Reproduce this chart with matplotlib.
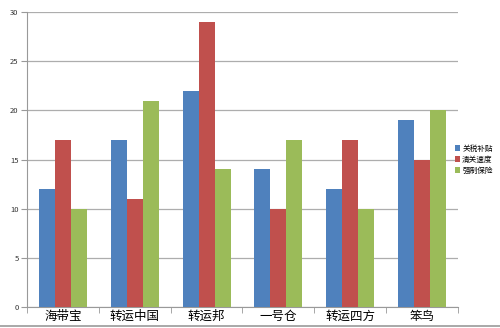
import matplotlib
matplotlib.use("Agg")
import matplotlib.pyplot as plt
from matplotlib.lines import Line2D
import numpy as np

plt.rcParams['font.family'] = ['Noto Sans CJK SC', 'DejaVu Sans']

categories = ["海带宝", "转运中国", "转运邦", "一号仓", "转运四方", "笨鸟"]
series_names = ["关税补贴", "清关速度", "强制保险"]
tariff = [12, 17, 22, 14, 12, 19]
clearance = [17, 11, 29, 10, 17, 15]
insurance = [10, 21, 14, 17, 10, 20]
colors = ["#4F81BD", "#C0504D", "#9BBB59"]

fig = plt.figure(figsize=(5, 3.28), dpi=100)
ax = fig.add_axes([0.054, 0.064, 0.862, 0.899])

x = np.arange(len(categories))
w = 0.223
for i, (vals, name, c) in enumerate(zip([tariff, clearance, insurance], series_names, colors)):
    ax.bar(x + (i - 1) * w, vals, width=w, color=c, label=name, zorder=3)

ax.set_xlim(-0.5, len(categories) - 0.5)
ax.set_ylim(0, 30)
ax.set_yticks(range(0, 31, 5))
ax.yaxis.grid(True, color="#ADADAD", linewidth=0.9, zorder=0)
ax.set_xticks(x)
ax.set_xticklabels(categories, fontsize=9)
ax.set_xticks(np.arange(-0.5, len(categories)), minor=True)
ax.tick_params(axis='x', which='major', length=0, pad=2)
ax.tick_params(axis='x', which='minor', length=4, color="#999999", direction='out')
ax.tick_params(axis='y', labelsize=5.5, length=4, color="#999999", labelcolor="#333333", pad=2)
for s in ["top", "right"]:
    ax.spines[s].set_visible(False)
ax.spines["left"].set_color("#999999")
ax.spines["bottom"].set_color("#999999")

leg = ax.legend(loc="center left", bbox_to_anchor=(0.985, 0.5), fontsize=5.5, frameon=False,
                handlelength=0.7, handleheight=0.7, handletextpad=0.3, labelspacing=0.4, borderaxespad=0)

fig.add_artist(Line2D([0, 1], [0.005, 0.005], transform=fig.transFigure, color="#999999", linewidth=1.2))

fig.savefig("out.png", dpi=100)
